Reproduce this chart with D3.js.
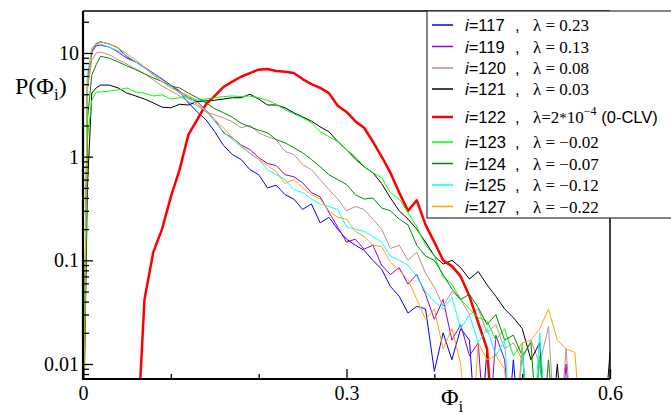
<!doctype html>
<html>
<head>
<script src="https://cdn.jsdelivr.net/npm/d3@7"></script>
<style>body{margin:0;background:#fff}</style>
</head>
<body>
<svg id="chart"></svg>
<script>
// Phi_i bins (x) and P(Phi_i) per CLV index; 0.001 = empty bin (falls below the axis)
var phi = [0, 0.005, 0.01, 0.015, 0.02, 0.03, 0.04, 0.05, 0.06, 0.07, 0.08, 0.09, 0.10,
  0.11, 0.12, 0.13, 0.14, 0.15, 0.16, 0.17, 0.18, 0.19, 0.20,
  0.21, 0.22, 0.23, 0.24, 0.25, 0.26, 0.27, 0.28, 0.29, 0.30,
  0.31, 0.32, 0.33, 0.34, 0.35, 0.36, 0.37, 0.38, 0.39, 0.40,
  0.41, 0.42, 0.43, 0.44, 0.45, 0.46, 0.47, 0.48, 0.49, 0.50,
  0.51, 0.52, 0.53, 0.54, 0.55, 0.56, 0.57, 0.58, 0.59, 0.60];

var p117 = [0.001, 5.5, 10.7, 12.2, 12.8, 12.2, 11.2, 9.2, 8.2, 7.2, 6.3, 5.6, 4.8,
  4.2, 3.3, 2.7, 2.27, 1.74, 1.28, 1.05, 0.94, 0.75, 0.67,
  0.5, 0.53, 0.43, 0.39, 0.31, 0.35, 0.23, 0.26, 0.2, 0.16,
  0.14, 0.125, 0.1, 0.082, 0.056, 0.045, 0.031, 0.036, 0.034, 0.0085,
  0.02, 0.011, 0.022, 0.017, 0.001, 0.014, 0.001, 0.001, 0.011, 0.001,
  0.001, 0.001, 0.001, 0.001, 0.001, 0.001, 0.001, 0.001, 0.001, 0.001];
var p119 = [0.001, 4.6, 10.2, 11.7, 11.9, 11.4, 10.2, 8.9, 8.2, 7.3, 6.4, 5.6, 4.9,
  4.3, 3.7, 3.4, 2.8, 2.27, 1.7, 1.52, 1.3, 1.17, 0.98,
  0.86, 0.82, 0.67, 0.64, 0.56, 0.45, 0.41, 0.29, 0.21, 0.15,
  0.16, 0.128, 0.14, 0.09, 0.073, 0.085, 0.059, 0.073, 0.047, 0.027,
  0.042, 0.017, 0.024, 0.012, 0.016, 0.001, 0.019, 0.011, 0.001, 0.014,
  0.001, 0.012, 0.001, 0.001, 0.01, 0.001, 0.001, 0.001, 0.001, 0.001];
var p120 = [0.001, 4.4, 8.5, 10, 10.2, 9.6, 8.6, 7.8, 7.0, 6.3, 5.5, 4.8, 4.3,
  3.85, 3.4, 3.1, 2.7, 2.53, 2.37, 2.17, 1.9, 2.0, 1.7,
  1.56, 1.46, 1.12, 1.05, 0.84, 0.75, 0.6, 0.48, 0.39, 0.3,
  0.33, 0.31, 0.25, 0.2, 0.13, 0.14, 0.1, 0.12, 0.075, 0.055,
  0.036, 0.05, 0.042, 0.03, 0.034, 0.02, 0.024, 0.014, 0.016, 0.011,
  0.017, 0.01, 0.023, 0.001, 0.014, 0.001, 0.001, 0.001, 0.001, 0.001];
var p121 = [0.001, 0.5, 4.1, 4.6, 4.9, 4.9, 4.6, 4.1, 3.85, 3.6, 3.3, 3.0, 2.96,
  3.2, 3.15, 3.4, 3.45, 3.5, 3.6, 3.7, 3.7, 4.0, 3.6,
  3.15, 3.15, 2.96, 2.65, 2.42, 2.2, 1.94, 1.74, 1.4, 1.17,
  0.95, 0.8, 0.7, 0.55, 0.4, 0.3, 0.25, 0.2, 0.15, 0.11,
  0.092, 0.1, 0.085, 0.066, 0.078, 0.058, 0.045, 0.034, 0.028, 0.022,
  0.011, 0.016, 0.001, 0.01, 0.001, 0.001, 0.001, 0.001, 0.001, 0.013];
var p122 = [0.001, 0.001, 0.001, 0.001, 0.001, 0.001, 0.001, 0.001, 0.001, 0.042, 0.12, 0.2, 0.41,
  0.75, 1.63, 2.27, 3.2, 3.85, 4.7, 5.3, 5.9, 6.4, 6.9,
  7.0, 6.7, 6.6, 6.4, 5.6, 5.0, 4.6, 4.1, 3.1, 2.7,
  2.2, 1.9, 1.4, 1.0, 0.7, 0.45, 0.3, 0.38, 0.22, 0.15,
  0.1, 0.088, 0.07, 0.045, 0.025, 0.014, 0.001, 0.001, 0.001, 0.001,
  0.001, 0.001, 0.001, 0.001, 0.001, 0.001, 0.001, 0.001, 0.001, 0.001];
var p123 = [0.001, 1.46, 3.5, 4.2, 4.2, 4.3, 4.4, 4.6, 4.2, 4.1, 3.85, 3.95, 3.6,
  3.7, 3.85, 3.5, 3.6, 3.7, 3.8, 3.85, 3.8, 3.85, 3.7,
  3.5, 3.2, 2.83, 2.6, 2.37, 2.12, 1.74, 1.56, 1.4, 1.17,
  1.0, 0.8, 0.7, 0.63, 0.45, 0.39, 0.29, 0.21, 0.14, 0.11,
  0.069, 0.059, 0.042, 0.034, 0.028, 0.026, 0.017, 0.022, 0.012, 0.016,
  0.001, 0.012, 0.001, 0.001, 0.001, 0.001, 0.001, 0.001, 0.001, 0.001];
var p124 = [0.001, 2.27, 6.1, 7.7, 9.3, 8.9, 8.2, 7.5, 6.9, 6.3, 5.75, 5.3, 4.8,
  4.6, 4.1, 3.7, 3.3, 2.9, 2.65, 2.4, 2.1, 1.94, 1.8,
  1.7, 1.46, 1.36, 1.22, 1.09, 0.94, 0.8, 0.67, 0.6, 0.54,
  0.43, 0.39, 0.4, 0.32, 0.3, 0.25, 0.22, 0.14, 0.11, 0.1,
  0.073, 0.053, 0.042, 0.047, 0.035, 0.024, 0.03, 0.017, 0.019, 0.012,
  0.016, 0.001, 0.011, 0.001, 0.001, 0.001, 0.001, 0.001, 0.001, 0.001];
var p125 = [0.001, 6.2, 11.2, 12.2, 12.2, 11.4, 10.5, 9.4, 8.2, 7.2, 6.3, 5.5, 4.8,
  4.1, 3.6, 3.2, 2.8, 2.17, 1.74, 1.46, 1.25, 1.07, 0.94,
  0.75, 0.67, 0.6, 0.48, 0.45, 0.39, 0.35, 0.33, 0.31, 0.21,
  0.2, 0.19, 0.17, 0.15, 0.11, 0.1, 0.09, 0.07, 0.05, 0.04,
  0.034, 0.044, 0.022, 0.03, 0.016, 0.022, 0.012, 0.017, 0.001, 0.014,
  0.001, 0.02, 0.001, 0.001, 0.001, 0.001, 0.001, 0.001, 0.001, 0.001];
var p127 = [0.001, 4.9, 10.7, 12.5, 12.8, 12.2, 11.2, 9.8, 8.6, 7.3, 6.1, 5.3, 4.6,
  4.2, 3.9, 3.2, 2.7, 2.27, 1.9, 1.52, 1.28, 1.09, 0.94,
  0.82, 0.72, 0.55, 0.6, 0.5, 0.43, 0.39, 0.3, 0.26, 0.25,
  0.19, 0.17, 0.14, 0.136, 0.096, 0.08, 0.065, 0.042, 0.027, 0.034,
  0.014, 0.022, 0.01, 0.001, 0.016, 0.011, 0.012, 0.0089, 0.001, 0.016,
  0.017, 0.022, 0.034, 0.017, 0.014, 0.013, 0.001, 0.001, 0.001, 0.001];

var clvIndex = ["117", "119", "120", "121", "122", "123", "124", "125", "127"];
var lambdas = ["0.23", "0.13", "0.08", "0.03", "2*10", "\u22120.02", "\u22120.07", "\u22120.12", "\u22120.22"];
var xTicks = [0, 0.3, 0.6];
var xMinor = [0.1, 0.2, 0.4, 0.5];
var yTicks = [0.01, 0.1, 1, 10];
var yMinor = [0.008, 0.009, 0.02, 0.03, 0.04, 0.05, 0.06, 0.07, 0.08, 0.09,
  0.2, 0.3, 0.4, 0.5, 0.6, 0.7, 0.8, 0.9, 2, 3, 4, 5, 6, 7, 8, 9, 20];

var series = [
  {vals: p117, color: "#0000ff", w: 1},
  {vals: p119, color: "#9400d3", w: 1},
  {vals: p120, color: "#bc8f8f", w: 1},
  {vals: p121, color: "#000000", w: 1},
  {vals: p122, color: "#ff0000", w: 2.5},
  {vals: p123, color: "#00ff00", w: 1},
  {vals: p124, color: "#008b00", w: 1},
  {vals: p125, color: "#00ffff", w: 1},
  {vals: p127, color: "#ffa500", w: 1}
];

var width = 671, height = 415;
var pLeft = 83, pRight = 610, pTop = 11, pBottom = 379;

var x = d3.scaleLinear().domain([0, 0.6]).range([pLeft, pRight]);
var y = d3.scaleLog().domain([0.00717, 25.4]).range([pBottom, pTop]);

var svg = d3.select("#chart").attr("width", width).attr("height", height);

svg.append("defs").append("clipPath").attr("id", "clip")
  .append("rect").attr("x", pLeft).attr("y", pTop)
  .attr("width", pRight - pLeft).attr("height", pBottom - pTop);

var line = d3.line().x((d, i) => x(phi[i])).y(d => y(d));

var curves = svg.append("g").attr("clip-path", "url(#clip)");
series.forEach(s => {
  curves.append("path").datum(s.vals)
    .attr("d", line).attr("fill", "none")
    .attr("stroke", s.color).attr("stroke-width", s.w)
    .attr("stroke-linejoin", "round");
});

// frame
svg.append("line").attr("x1", pLeft).attr("x2", pRight).attr("y1", pTop).attr("y2", pTop)
  .attr("stroke", "#000").attr("stroke-width", 1.5);
svg.append("line").attr("x1", pRight).attr("x2", pRight).attr("y1", pTop).attr("y2", pBottom)
  .attr("stroke", "#000").attr("stroke-width", 1.5);

// axes, ticks inward
var serif = "'Liberation Serif','Times New Roman',serif";
var ax = svg.append("g").attr("transform", "translate(0," + pBottom + ")")
  .call(d3.axisBottom(x).tickValues(xMinor).tickSize(-5).tickFormat(""));
ax.select(".domain").remove();
var ax2 = svg.append("g").attr("transform", "translate(0," + pBottom + ")")
  .call(d3.axisBottom(x).tickValues(xTicks).tickSize(-10).tickPadding(7).tickFormat(d => String(d)));
ax2.select(".domain").remove();
ax2.selectAll("text").attr("font-family", serif).attr("font-size", 20).attr("fill", "#000");

var ay = svg.append("g").attr("transform", "translate(" + pLeft + ",0)")
  .call(d3.axisLeft(y).tickValues(yMinor).tickSize(-6).tickFormat(""));
ay.select(".domain").remove();
var ay2 = svg.append("g").attr("transform", "translate(" + pLeft + ",0)")
  .call(d3.axisLeft(y).tickValues(yTicks).tickSize(-10).tickPadding(4).tickFormat(d => String(d)));
ay2.select(".domain").remove();
ay2.selectAll("text").attr("font-family", serif).attr("font-size", 20).attr("fill", "#000");
svg.selectAll(".tick line").attr("stroke", "#000").attr("stroke-width", 1.3);

svg.append("line").attr("x1", pLeft).attr("x2", pLeft).attr("y1", pTop).attr("y2", pBottom + 1)
  .attr("stroke", "#000").attr("stroke-width", 2.2);
svg.append("line").attr("x1", pLeft - 1).attr("x2", pRight).attr("y1", pBottom).attr("y2", pBottom)
  .attr("stroke", "#000").attr("stroke-width", 2.2);

// axis titles
var yt = svg.append("text").attr("x", 15).attr("y", 94)
  .attr("font-family", serif).attr("font-size", 24).attr("fill", "#000");
yt.append("tspan").text("P(\u03A6");
yt.append("tspan").attr("font-size", 17).attr("dy", 6).text("i");
yt.append("tspan").attr("dy", -6).text(")");

var xt = svg.append("text").attr("x", 441).attr("y", 405)
  .attr("font-family", serif).attr("font-size", 24).attr("fill", "#000");
xt.append("tspan").text("\u03A6");
xt.append("tspan").attr("font-size", 17).attr("dy", 7).text("i");

// legend
var sans = "'Liberation Sans',Arial,sans-serif";
var rowY = [25, 46.5, 68, 89, 117, 142, 163.5, 185, 206.5];
var lg = svg.append("g");
lg.append("rect").attr("x", 427).attr("y", pTop).attr("width", 250).attr("height", 207)
  .attr("fill", "#fff").attr("stroke", "#333").attr("stroke-width", 1.2);

series.forEach((s, i) => {
  var cy = rowY[i];
  lg.append("line").attr("x1", 432).attr("x2", 453).attr("y1", cy).attr("y2", cy)
    .attr("stroke", s.color).attr("stroke-width", s.w === 1 ? 1.5 : 2.5);
  var t1 = lg.append("text").attr("x", 465).attr("y", cy + 6)
    .attr("font-family", sans).attr("font-size", 16.5).attr("fill", "#000");
  t1.append("tspan").attr("font-style", "italic").text("i");
  t1.append("tspan").text("=" + clvIndex[i]);
  lg.append("text").attr("x", 515).attr("y", cy + 6)
    .attr("font-family", sans).attr("font-size", 16.5).attr("fill", "#000").text(",");
  var t2 = lg.append("text").attr("x", 533).attr("y", cy + 6)
    .attr("font-family", serif).attr("font-size", 17).attr("fill", "#000");
  if (clvIndex[i] === "122") {
    t2.append("tspan").text("\u03BB=2");
    t2.append("tspan").attr("font-size", 15).text("*");
    t2.append("tspan").text("10");
    t2.append("tspan").attr("font-size", 12).attr("dy", -8).text("\u22124");
    t2.append("tspan").attr("dy", 8).attr("font-family", sans).attr("font-size", 16.5).text(" (0-CLV)");
  } else {
    t2.text("\u03BB = " + lambdas[i]);
  }
});
</script>
</body>
</html>
